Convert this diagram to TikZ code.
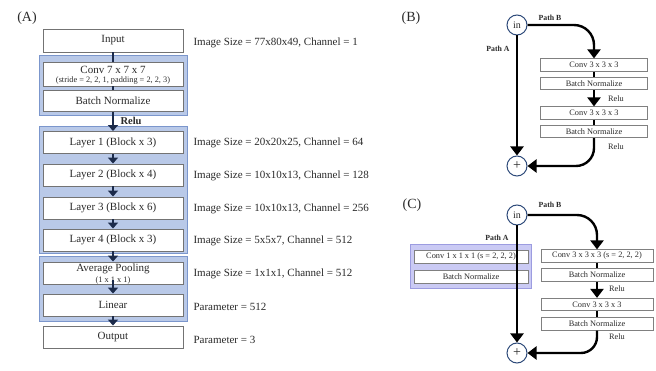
\documentclass[tikz,border=0pt]{standalone}
\usepackage{fontspec}
\setmainfont{Liberation Serif}
\usetikzlibrary{arrows.meta}
\definecolor{grpfill}{HTML}{B9C9E8}
\definecolor{grpdraw}{HTML}{7B96CC}
\definecolor{lavfill}{HTML}{CACAF4}
\definecolor{lavdraw}{HTML}{9C9CE0}
\definecolor{navy}{HTML}{1C2B4B}
\definecolor{circ}{HTML}{2E4A7A}
\definecolor{txt}{HTML}{2A2A2A}
\tikzset{
  abox/.style={draw=black!55, line width=0.9pt, fill=white, minimum width=140pt, inner sep=0pt, text=txt, font=\fontsize{11}{12}\selectfont},
  grp/.style={draw=grpdraw, fill=grpfill, line width=1pt},
  lgrp/.style={draw=lavdraw, fill=lavfill, line width=1pt},
  sbox/.style={draw=black!50, line width=0.7pt, fill=white, inner sep=0pt, text=txt, font=\fontsize{8.3}{9}\selectfont},
  info/.style={anchor=west, text=txt, font=\fontsize{11}{12}\selectfont},
  aline/.style={draw=navy, line width=2.6pt},
  aarrow/.style={draw=navy, line width=2.6pt, -{Triangle[width=10pt,length=6pt]}},
  bline/.style={draw=black, line width=2.4pt},
  barrow/.style={draw=black, line width=2.4pt, -{Triangle[width=13pt,length=9pt]}},
  circnode/.style={circle, draw=circ, line width=1pt, fill=white, minimum size=20pt, inner sep=0pt, text=txt, font=\fontsize{10}{10}\selectfont},
  pathlbl/.style={font=\bfseries\fontsize{7.8}{8}\selectfont, text=txt},
  relu/.style={font=\fontsize{8.3}{9}\selectfont, text=txt},
  panel/.style={font=\fontsize{14}{14}\selectfont, text=txt}
}
\begin{document}
\begin{tikzpicture}[x=1pt,y=-1pt]
\useasboundingbox (0,0) rectangle (656,371);
\fill[white] (0,0) rectangle (656,371);

% ---------------- Panel A ----------------
\node[panel] (labA) at (27,18) {(A)};
\fill[grp] (39,56) rectangle (187,116);
\fill[grp] (39,127) rectangle (187,254);
\fill[grp] (39,257) rectangle (187,322);

\node[abox, minimum height=23pt] (inp) at (113,40.5) {Input};
\node[abox, minimum height=24pt] (conv) at (113,74) {};
\node[text=txt, font=\fontsize{11}{12}\selectfont] (convt) at (113,69.5) {Conv 7 x 7 x 7};
\node[text=txt, font=\fontsize{8.3}{9}\selectfont] (convs) at (113,80.5) {(stride = 2, 2, 1, padding = 2, 2, 3)};
\node[abox, minimum height=21pt] (bn) at (113,101) {Batch Normalize};
\node[abox, minimum height=22pt] (l1) at (113,142.5) {Layer 1 (Block x 3)};
\node[abox, minimum height=22pt] (l2) at (113,175) {Layer 2 (Block x 4)};
\node[abox, minimum height=22pt] (l3) at (113,208) {Layer 3 (Block x 6)};
\node[abox, minimum height=22pt] (l4) at (113,240) {Layer 4 (Block x 3)};
\node[abox, minimum height=22pt] (avg) at (113,273) {};
\node[text=txt, font=\fontsize{11}{12}\selectfont] (avgt) at (113,268.5) {Average Pooling};
\node[text=txt, font=\fontsize{8.3}{9}\selectfont] (avgs) at (113,280.5) {(1 x 1 x 1)};
\node[abox, minimum height=22pt] (lin) at (113,305) {Linear};
\node[abox, minimum height=22pt] (out) at (113,337) {Output};

\draw[aline] (inp.south) -- (conv.north);
\draw[aline] (conv.south) -- (bn.north);
\draw[aarrow] (bn.south) -- (l1.north);
\node[font=\bfseries\fontsize{10.5}{11}\selectfont, text=txt, anchor=west] (reluA) at (117,120.5) {Relu};
\draw[aarrow] (l1.south) -- (l2.north);
\draw[aarrow] (l2.south) -- (l3.north);
\draw[aarrow] (l3.south) -- (l4.north);
\draw[aarrow] (l4.south) -- (avg.north);
\draw[aarrow] (avgs.center) -- (lin.north);
\draw[aarrow] (lin.south) -- (out.north);

\node[info] (i1) at (190,43) {Image Size = 77x80x49, Channel = 1};
\node[info] (i2) at (190,143) {Image Size = 20x20x25, Channel = 64};
\node[info] (i3) at (190,176) {Image Size = 10x10x13, Channel = 128};
\node[info] (i4) at (190,208.5) {Image Size = 10x10x13, Channel = 256};
\node[info] (i5) at (190,241) {Image Size = 5x5x7, Channel = 512};
\node[info] (i6) at (190,274) {Image Size = 1x1x1, Channel = 512};
\node[info] (i7) at (190,307) {Parameter = 512};
\node[info] (i8) at (190,340) {Parameter = 3};

% ---------------- Panel B ----------------
\node[panel] (labB) at (411,18) {(B)};
\node[circnode] (inB) at (517,25) {in};
\node[circnode] (plB) at (517,166) {\fontsize{14}{14}\selectfont +};
\node[pathlbl] (pbB) at (550,18) {Path B};
\node[pathlbl] (paB) at (498,49) {Path A};
\node[sbox, minimum width=107pt, minimum height=12.5pt] (c1B) at (594,65) {Conv 3 x 3 x 3};
\node[sbox, minimum width=107pt, minimum height=12.5pt] (b1B) at (594,83.5) {Batch Normalize};
\node[sbox, minimum width=107pt, minimum height=12.5pt] (c2B) at (594,113) {Conv 3 x 3 x 3};
\node[sbox, minimum width=107pt, minimum height=12.5pt] (b2B) at (594,131.5) {Batch Normalize};
\node[relu] (r1B) at (616,99) {Relu};
\node[relu] (r2B) at (616,147) {Relu};
\draw[barrow] (inB.south) -- (plB.north);
\draw[barrow, rounded corners=20pt] (inB.east) -| (c1B.north);
\draw[bline] (c1B.south) -- (b1B.north);
\draw[barrow] (b1B.south) -- (c2B.north);
\draw[bline] (c2B.south) -- (b2B.north);
\draw[barrow, rounded corners=18pt] (b2B.south) |- (plB.east);

% ---------------- Panel C ----------------
\node[panel] (labC) at (412,205) {(C)};
\fill[lgrp] (410,245) rectangle (531,289);
\node[circnode] (inC) at (517,215) {in};
\node[circnode] (plC) at (517,353) {\fontsize{14}{14}\selectfont +};
\node[pathlbl] (pbC) at (550,205) {Path B};
\node[pathlbl] (paC) at (497,238) {Path A};
\node[sbox, minimum width=114pt, minimum height=13pt] (c1A) at (471,256.5) {Conv 1 x 1 x 1 (s = 2, 2, 2)};
\node[sbox, minimum width=114pt, minimum height=13pt] (b1A) at (471,277) {Batch Normalize};
\node[sbox, minimum width=112pt, minimum height=12.5pt] (c1C) at (597,256) {Conv 3 x 3 x 3 (s = 2, 2, 2)};
\node[sbox, minimum width=112pt, minimum height=13pt] (b1C) at (597,275) {Batch Normalize};
\node[sbox, minimum width=112pt, minimum height=12.5pt] (c2C) at (597,304.5) {Conv 3 x 3 x 3};
\node[sbox, minimum width=112pt, minimum height=12.5pt] (b2C) at (597,324) {Batch Normalize};
\node[relu] (r1C) at (617,289) {Relu};
\node[relu] (r2C) at (617,337) {Relu};
\draw[barrow] (inC.south) -- (plC.north);
\draw[barrow, rounded corners=20pt] (inC.east) -| (c1C.north);
\draw[bline] (c1C.south) -- (b1C.north);
\draw[barrow] (b1C.south) -- (c2C.north);
\draw[bline] (c2C.south) -- (b2C.north);
\draw[barrow, rounded corners=16pt] (b2C.south) |- (plC.east);
\end{tikzpicture}
\end{document}
